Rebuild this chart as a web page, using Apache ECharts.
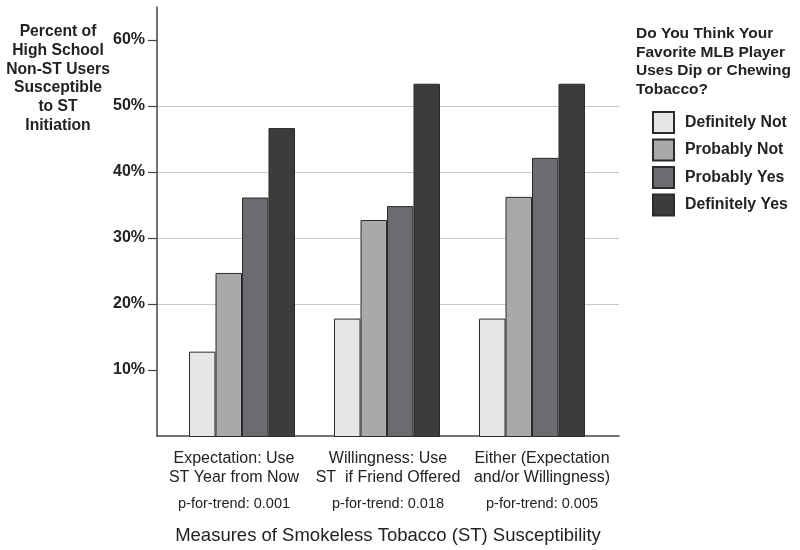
<!DOCTYPE html>
<html>
<head>
<meta charset="utf-8">
<script src="https://cdn.jsdelivr.net/npm/echarts@6/dist/echarts.min.js"></script>
<style>html,body{margin:0;padding:0;background:#fff}#c{width:800px;height:550px}</style>
</head>
<body>
<div id="c"></div>
<script>
const categories = [
  ['Expectation: Use', 'ST Year from Now'],
  ['Willingness: Use', 'ST  if Friend Offered'],
  ['Either (Expectation', 'and/or Willingness)']
];
const pTrend = ['p-for-trend: 0.001', 'p-for-trend: 0.018', 'p-for-trend: 0.005'];
const seriesNames = ['Definitely Not', 'Probably Not', 'Probably Yes', 'Definitely Yes'];
const definitelyNot = [12.9, 17.9, 17.9];
const probablyNot = [24.8, 32.8, 36.3];
const probablyYes = [36.2, 34.9, 42.2];
const definitelyYes = [46.7, 53.4, 53.4];
const yTicks = [10, 20, 30, 40, 50, 60];
const yTitle = 'Percent of\nHigh School\nNon-ST Users\nSusceptible\nto ST\nInitiation';
const legendTitle = 'Do You Think Your\nFavorite MLB Player\nUses Dip or Chewing\nTobacco?';
const xTitle = 'Measures of Smokeless Tobacco (ST) Susceptibility';

const colors = ['#e6e6e8', '#a9a9ac', '#6b6c70', '#3c3c3e'];
const values = [definitelyNot, probablyNot, probablyYes, definitelyYes];
const FONT = 'Liberation Sans, Arial, sans-serif';
const catKeys = categories.map((c, i) => 'c' + i);

const chart = echarts.init(document.getElementById('c'), null, {renderer: 'canvas'});
chart.setOption({
  backgroundColor: '#fff',
  animation: false,
  textStyle: {fontFamily: FONT, color: '#222'},
  grid: [
    {left: 157, right: 181, top: 7, bottom: 113},
    {left: 169.5, right: 195.5, top: 7, bottom: 113}
  ],
  xAxis: [
    {
      type: 'category', gridIndex: 0, data: catKeys,
      axisLine: {show: true, lineStyle: {color: '#444', width: 1.5}},
      axisTick: {show: false},
      axisLabel: {
        margin: 13, interval: 0,
        formatter: (v, i) => '{a|' + categories[i][0] + '}\n{a|' + categories[i][1] + '}\n{p|' + pTrend[i] + '}',
        rich: {
          a: {fontFamily: FONT, fontSize: 16, lineHeight: 19.3, color: '#222'},
          p: {fontFamily: FONT, fontSize: 14.5, lineHeight: 33.4, color: '#222'}
        }
      },
      name: xTitle, nameLocation: 'middle', nameGap: 90,
      nameTextStyle: {fontFamily: FONT, fontSize: 18.5, color: '#222'}
    },
    {type: 'category', gridIndex: 1, data: catKeys, show: false}
  ],
  yAxis: [
    {
      type: 'value', gridIndex: 0, min: 0, max: 65, interval: 10,
      axisLine: {show: true, lineStyle: {color: '#444', width: 1.5}},
      axisTick: {show: true, length: 9, lineStyle: {color: '#444', width: 1.2}, customValues: yTicks},
      axisLabel: {
        margin: 12, fontFamily: FONT, fontSize: 16, fontWeight: 'bold', color: '#222',
        customValues: yTicks,
        formatter: v => (v === 0 || v > 60) ? '' : v + '%'
      },
      splitLine: {show: true, showMinLine: false, showMaxLine: false, lineStyle: {color: '#c8c8c8', width: 1}}
    },
    {type: 'value', gridIndex: 1, min: 0, max: 65, interval: 10, show: false, splitLine: {show: false}}
  ],
  legend: {
    orient: 'vertical', left: 647, top: 106,
    itemWidth: 21, itemHeight: 21, itemGap: 4.5,
    icon: 'rect',
    data: seriesNames,
    textStyle: {fontFamily: FONT, fontSize: 15.8, fontWeight: 'bold', color: '#222', padding: [0, 0, 0, 6]}
  },
  graphic: [
    {
      type: 'text', x: 58, y: 22,
      style: {text: yTitle, font: 'bold 15.7px ' + FONT, fill: '#222', lineHeight: 18.9, align: 'center', verticalAlign: 'top'}
    }
  ],
  title: {
    text: legendTitle, left: 636, top: 24.5, padding: 0,
    textStyle: {fontFamily: FONT, fontSize: 15.5, fontWeight: 'bold', color: '#222', lineHeight: 18.5}
  },
  series: seriesNames.map((n, k) => ({
    name: n, type: 'bar', xAxisIndex: 1, yAxisIndex: 1,
    data: values[k], barGap: '0%', barCategoryGap: '26.9%',
    itemStyle: {color: colors[k], borderColor: '#2a2a2a', borderWidth: 1}
  }))
});
</script>
</body>
</html>
